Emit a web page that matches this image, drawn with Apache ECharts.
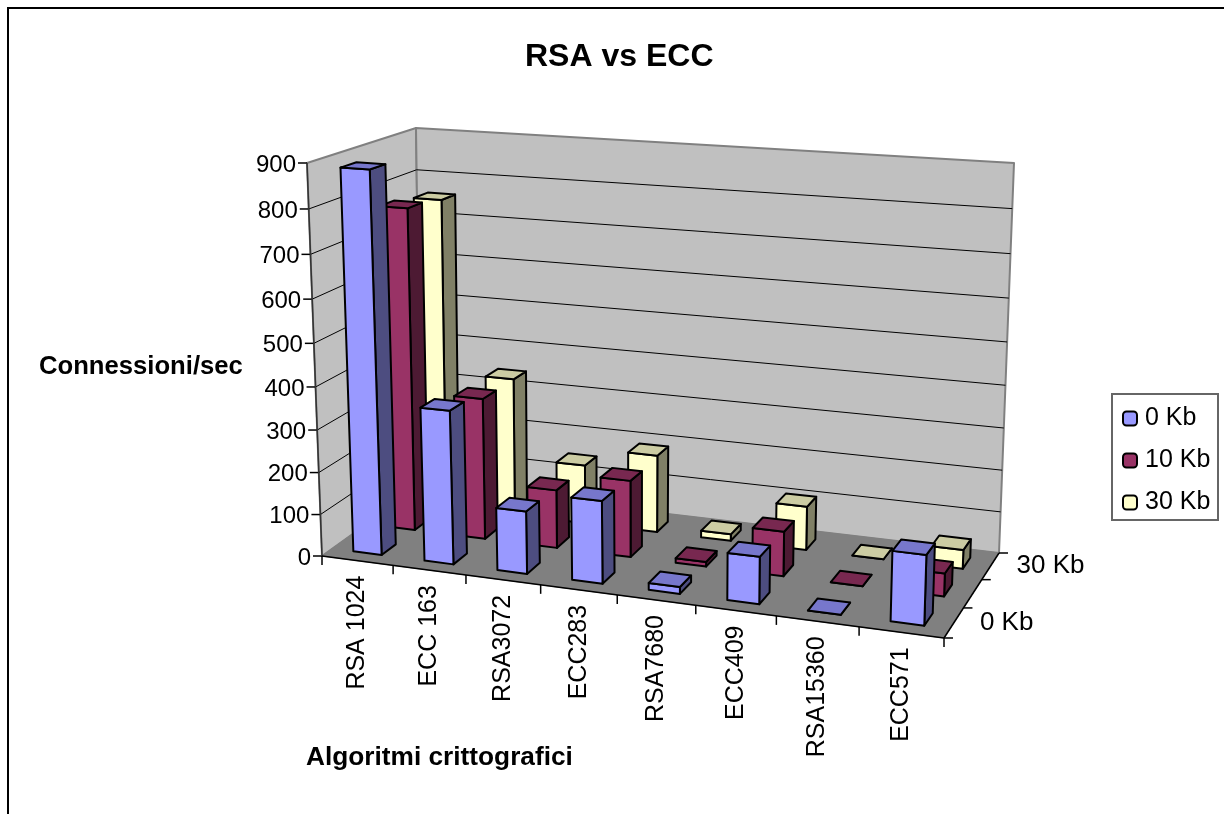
<!DOCTYPE html>
<html><head><meta charset="utf-8">
<style>html,body{margin:0;padding:0;background:#fff}#c{width:1224px;height:814px}</style>
<script src="https://cdn.jsdelivr.net/npm/echarts@6/dist/echarts.min.js"></script>
</head><body><div id="c"></div>
<script>
const categories = ['RSA 1024','ECC 163','RSA3072','ECC283','RSA7680','ECC409','RSA15360','ECC571'];
const seriesNames = ['0 Kb','10 Kb','30 Kb'];
const values0  = [885,361,147,192,16,108,0,157];
const values10 = [769,340,140,183,11,105,0,53];
const values30 = [757,340,145,189,16,105,0,45];
const yTicks = [0,100,200,300,400,500,600,700,800,900];
const depthTickLabels = ['0 Kb','','30 Kb'];

const seriesValues = [values0, values10, values30];
const faceColors = [
  {front:'#9999FF', side:'#4D4D80', top:'#7777CC'},
  {front:'#993366', side:'#4D1A33', top:'#782850'},
  {front:'#FFFFCC', side:'#808066', top:'#CCCCA3'}
];
const yMax = 900, nCat = categories.length;
const FONT = '"Liberation Sans", Arial, sans-serif';

// floor and ceiling quads of the 3-D box: [front-left, front-right, back-right, back-left]
const floorQuad = [[322,556],[944,638],[999,553],[421,485]];
const topQuad   = [[307,163],[958,206],[1014,163],[416,128]];
const heightPerspective = 1.06;

function quadMap(q){
  const [p0,p1,p2,p3]=q;
  const dx1=p1[0]-p2[0],dx2=p3[0]-p2[0],sx=p0[0]-p1[0]+p2[0]-p3[0];
  const dy1=p1[1]-p2[1],dy2=p3[1]-p2[1],sy=p0[1]-p1[1]+p2[1]-p3[1];
  const den=dx1*dy2-dx2*dy1;
  const g=(sx*dy2-dx2*sy)/den,h=(dx1*sy-sx*dy1)/den;
  const a=p1[0]-p0[0]+g*p1[0],b=p3[0]-p0[0]+h*p3[0],c=p0[0];
  const d=p1[1]-p0[1]+g*p1[1],e=p3[1]-p0[1]+h*p3[1],f=p0[1];
  return (s,t)=>{const w=g*s+h*t+1;return [(a*s+b*t+c)/w,(d*s+e*t+f)/w];};
}
const floorMap=quadMap(floorQuad), topMap=quadMap(topQuad);
// u: category position 0..nCat, v: depth 0..1, f: fraction of the value axis 0..1
function project(u,v,f){
  const a=floorMap(u/nCat,v), b=topMap(u/nCat,v);
  const k=f/(f+(1-f)*heightPerspective);
  return [a[0]+(b[0]-a[0])*k, a[1]+(b[1]-a[1])*k];
}
// read scale positions from the library's hidden axes
function axisFrac(api,val){
  const base=api.coord([0,0])[1], full=api.coord([0,yMax])[1];
  return (base-api.coord([0,val])[1])/(base-full);
}
function axisU(api,i){
  const band=api.size([1,0])[0];
  return (api.coord([i,0])[0]-api.coord([0,0])[0])/band;
}
function poly(points,fill,stroke,lw){
  return {type:'polygon',shape:{points},style:{fill,stroke,lineWidth:lw,lineJoin:'round'}};
}
function line(a,b,stroke,lw){
  return {type:'line',shape:{x1:a[0],y1:a[1],x2:b[0],y2:b[1]},style:{stroke,lineWidth:lw}};
}
function txt(x,y,text,opt){
  opt=opt||{};
  return {type:'text',x,y,rotation:opt.rot||0,scaleX:opt.sx||1,style:{text,font:(opt.bold?'bold ':'')+(opt.size||24)+'px '+FONT,fill:'#000',align:opt.align||'left',verticalAlign:'middle'}};
}

function renderScene(params,api){
  const kids=[];
  const P=project;
  kids.push(poly([P(0,0,0),P(0,1,0),P(0,1,1),P(0,0,1)],'#C0C0C0','#808080',2));
  kids.push(poly([P(0,1,0),P(nCat,1,0),P(nCat,1,1),P(0,1,1)],'#C0C0C0','#808080',2));
  kids.push(poly([P(0,0,0),P(nCat,0,0),P(nCat,1,0),P(0,1,0)],'#808080','#808080',1));
  yTicks.forEach(t=>{
    const f=axisFrac(api,t);
    if(t>0&&t<yMax){
      kids.push(line(P(0,0,f),P(0,1,f),'#000',1));
      kids.push(line(P(0,1,f),P(nCat,1,f),'#000',1));
    }
    const a=P(0,0,f);
    kids.push(line([a[0]-9,a[1]],a,'#000',1.5));
    kids.push(txt(a[0]-11,a[1]+2,String(t),{align:'right'}));
  });
  kids.push(line(P(0,0,0),P(0,0,1),'#333',1.5));
  kids.push(line(P(0,0,0),P(nCat,0,0),'#000',1.5));
  kids.push(line(P(nCat,0,0),P(nCat,1,0),'#000',1.5));
  for(let i=0;i<=nCat;i++){
    const a=P(axisU(api,i),0,0);
    kids.push(line(a,[a[0],a[1]+9],'#000',1.5));
  }
  categories.forEach((c,i)=>{
    const a=P(axisU(api,i)+0.5,0,0);
    kids.push(txt(a[0],a[1]+15,c,{rot:Math.PI/2,align:'right',size:25}));
  });
  for(let d=0;d<=depthTickLabels.length;d++){
    const a=P(nCat,d/depthTickLabels.length,0);
    kids.push(line(a,[a[0]+9,a[1]],'#000',1.5));
  }
  depthTickLabels.forEach((l,d)=>{
    if(!l)return;
    const a=P(nCat,(d+0.5)/depthTickLabels.length,0);
    kids.push(txt(a[0]+26,a[1]+0,l,{size:25,sx:1.04}));
  });
  kids.push(txt(39,367,'Connessioni/sec',{bold:true,size:25,sx:1.026}));
  kids.push(txt(306,758,'Algoritmi crittografici',{bold:true,size:25,sx:1.05}));
  kids.push({type:'rect',shape:{x:1112,y:394,width:106,height:126},style:{fill:'#fff',stroke:'#666',lineWidth:2}});
  return {type:'group',children:kids};
}

function barRenderer(s){
  const col=faceColors[s];
  return function(params,api){
    const i=api.value(0), f=axisFrac(api,api.value(1));
    const u0=axisU(api,i)+0.3, u1=u0+0.4;
    const v0=s/3+0.097, v1=v0+0.14;
    const P=project;
    return {type:'group',children:[
      poly([P(u1,v0,0),P(u1,v1,0),P(u1,v1,f),P(u1,v0,f)],col.side,'#000',2),
      poly([P(u0,v0,0),P(u1,v0,0),P(u1,v0,f),P(u0,v0,f)],col.front,'#000',2),
      poly([P(u0,v0,f),P(u1,v0,f),P(u1,v1,f),P(u0,v1,f)],col.top,'#000',2)
    ]};
  };
}

const barSeries = seriesNames.map((name,s)=>({
  name, type:'custom', z:4-s, coordinateSystem:'cartesian2d', clip:false, silent:true,
  renderItem:barRenderer(s),
  itemStyle:{color:faceColors[s].front,borderColor:'#000',borderWidth:2,borderJoin:'miter'},
  encode:{x:0,y:1},
  data:seriesValues[s].map((v,i)=>[i,v])
}));

const chart=echarts.init(document.getElementById('c'),null,{renderer:'canvas'});
chart.setOption({
  animation:false,
  backgroundColor:'#fff',
  title:{text:'RSA vs ECC',left:520,top:36,textStyle:{fontFamily:FONT,fontSize:32,fontWeight:'bold',color:'#000'}},
  grid:{left:0,top:0,width:800,height:700,show:false},
  xAxis:{type:'category',data:categories,show:false},
  yAxis:{type:'value',min:0,max:yMax,interval:100,show:false},
  legend:{
    data:seriesNames,orient:'vertical',left:1113,top:395,
    padding:[11,0,0,9],itemWidth:14,itemHeight:14,itemGap:17,selectedMode:false,
    textStyle:{fontFamily:FONT,fontSize:25,color:'#000',padding:[0,0,0,3]}
  },
  graphic:[{type:'polyline',z:100,shape:{points:[[8,814],[8,8],[1224,8]]},style:{stroke:'#000',fill:'none',lineWidth:2}}],
  series:[
    {type:'custom',name:'scene',z:1,coordinateSystem:'cartesian2d',clip:false,silent:true,renderItem:renderScene,encode:{x:0,y:1},data:[[0,0]]}
  ].concat(barSeries)
});
</script></body></html>
